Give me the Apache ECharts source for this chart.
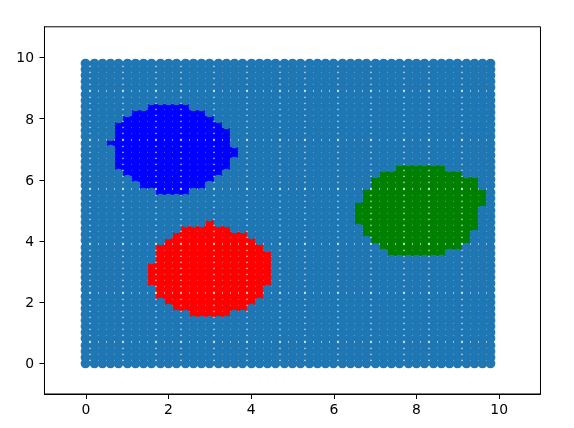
<!DOCTYPE html>
<html>
<head>
<meta charset="utf-8">
<style>
  html, body { margin: 0; padding: 0; background: #fff; }
  #chart { width: 574px; height: 428px; }
</style>
<script src="https://cdn.jsdelivr.net/npm/echarts@6/dist/echarts.min.js"></script>
</head>
<body>
<div id="chart"></div>
<script>
// grid positions on both axes
var gridValues = [
  0, 0.2, 0.4, 0.6, 0.8, 1, 1.2, 1.4, 1.6, 1.8,
  2, 2.2, 2.4, 2.6, 2.8, 3, 3.2, 3.4, 3.6, 3.8,
  4, 4.2, 4.4, 4.6, 4.8, 5, 5.2, 5.4, 5.6, 5.8,
  6, 6.2, 6.4, 6.6, 6.8, 7, 7.2, 7.4, 7.6, 7.8,
  8, 8.2, 8.4, 8.6, 8.8, 9, 9.2, 9.4, 9.6, 9.8
];
var tickValues = [0, 2, 4, 6, 8, 10];

// coloured rows: [y, first x, last x]
var blueRows = [
  [8.4, 1.6, 2.4], [8.2, 1.2, 2.8], [8, 1, 3], [7.8, 0.8, 3.2], [7.6, 0.8, 3.4],
  [7.4, 0.8, 3.4], [7.2, 0.6, 3.4], [7, 0.8, 3.6], [6.8, 0.8, 3.6], [6.6, 0.8, 3.4],
  [6.4, 0.8, 3.4], [6.2, 1, 3.2], [6, 1.2, 3], [5.8, 1.4, 2.8], [5.6, 1.8, 2.4]
];
var redRows = [
  [4.6, 3, 3], [4.4, 2.4, 3.4], [4.2, 2.2, 3.8], [4, 2, 4], [3.8, 1.8, 4.2],
  [3.6, 1.8, 4.4], [3.4, 1.8, 4.4], [3.2, 1.6, 4.4], [3, 1.6, 4.4], [2.8, 1.6, 4.4],
  [2.6, 1.6, 4.4], [2.4, 1.8, 4.2], [2.2, 1.8, 4.2], [2, 2, 4], [1.8, 2.2, 3.8],
  [1.6, 2.6, 3.4]
];
var greenRows = [
  [6.4, 7.6, 8.6], [6.2, 7.2, 9], [6, 7, 9.4], [5.8, 7, 9.4], [5.6, 6.8, 9.6],
  [5.4, 6.8, 9.6], [5.2, 6.6, 9.6], [5, 6.6, 9.4], [4.8, 6.6, 9.4], [4.6, 6.6, 9.4],
  [4.4, 6.8, 9.4], [4.2, 6.8, 9.2], [4, 7, 9.2], [3.8, 7.2, 9], [3.6, 7.4, 8.6]
];

var chartDom = document.getElementById("chart");
var myChart = echarts.init(chartDom, null, { renderer: "canvas" });

function inRows(rows, x, y) {
  return rows.some(function (r) {
    return r[0] === y && x >= r[1] && x <= r[2];
  });
}

// split the grid into the background points and the three coloured groups
var bluePoints = [], redPoints = [], greenPoints = [], restPoints = [];
gridValues.forEach(function (y) {
  gridValues.forEach(function (x) {
    if (inRows(blueRows, x, y)) bluePoints.push([x, y]);
    else if (inRows(redRows, x, y)) redPoints.push([x, y]);
    else if (inRows(greenRows, x, y)) greenPoints.push([x, y]);
    else restPoints.push([x, y]);
  });
});

// markers land on whole pixels, same as the original stamps
function renderDot(color) {
  return function (params, api) {
    var p = api.coord([api.value(0), api.value(1)]);
    return {
      type: "circle",
      shape: { cx: Math.floor(p[0]) + 0.5, cy: Math.floor(p[1]) + 0.5, r: 4.17 },
      style: { fill: color, stroke: color, lineWidth: 1.39 },
      silent: true
    };
  };
}

function dotSeries(color, points) {
  return {
    type: "custom",
    coordinateSystem: "cartesian2d",
    renderItem: renderDot(color),
    data: points,
    clip: false,
    progressive: 0,
    animation: false
  };
}

function axisConfig(labelMargin) {
  return {
    type: "value",
    min: -1,
    max: 11,
    splitLine: { show: false },
    axisLine: { show: true, onZero: false, lineStyle: { color: "#000", width: 1 } },
    axisTick: { show: true, customValues: tickValues, length: 5, inside: false, lineStyle: { color: "#000", width: 1 } },
    axisLabel: {
      customValues: tickValues,
      color: "#000",
      fontFamily: "DejaVu Sans",
      fontSize: 13.9,
      margin: labelMargin
    }
  };
}

var yAxisConfig = axisConfig(10.5);
// y labels sit a bit lower than echarts centres them
yAxisConfig.axisLabel.formatter = "{t|{value}}";
yAxisConfig.axisLabel.rich = {
  t: { color: "#000", fontFamily: "DejaVu Sans", fontSize: 13.9, padding: [3, 0, 0, 0] }
};

var option = {
  animation: false,
  backgroundColor: "#fff",
  grid: [
    { left: 44.47, top: 26.79, width: 496, height: 367.2, show: true, borderColor: "#000", borderWidth: 1, backgroundColor: "#fff" }
  ],
  xAxis: axisConfig(9),
  yAxis: yAxisConfig,
  series: [
    dotSeries("#0000ff", bluePoints),
    dotSeries("#ff0000", redPoints),
    dotSeries("#008000", greenPoints),
    dotSeries("#1f77b4", restPoints)
  ]
};

myChart.setOption(option);
</script>
</body>
</html>
